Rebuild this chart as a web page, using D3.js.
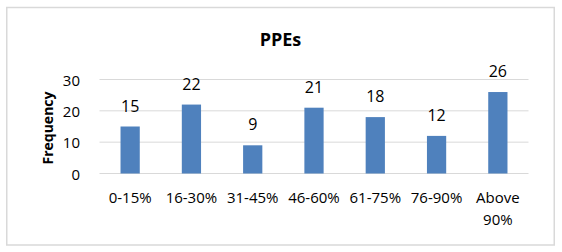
<!DOCTYPE html>
<html>
<head>
<meta charset="utf-8">
<script src="https://cdn.jsdelivr.net/npm/d3@7"></script>
<style>
  body { margin: 0; background: #fff; }
  svg text { font-family: "Open Sans", "Liberation Sans", sans-serif; fill: #000; }
</style>
</head>
<body>
<div id="chart"></div>
<script>
// data
const categories = ["0-15%", "16-30%", "31-45%", "46-60%", "61-75%", "76-90%", "Above 90%"];
const frequency = [15, 22, 9, 21, 18, 12, 26];
const yTicks = [0, 10, 20, 30];

const W = 562, H = 252;
const plot = { left: 99.5, right: 528.5, top: 79.5, bottom: 173.5 };

const svg = d3.select("#chart").append("svg")
    .attr("width", W)
    .attr("height", H);

// outer frame
svg.append("rect")
    .attr("x", 6.75).attr("y", 7.5)
    .attr("width", 547.5).attr("height", 237.5)
    .attr("fill", "#fff")
    .attr("stroke", "#d9d9d9")
    .attr("stroke-width", 1.5);

const x = d3.scaleBand()
    .domain(categories)
    .range([plot.left, plot.right])
    .paddingInner(0.686)
    .paddingOuter(0.343);

const y = d3.scaleLinear().domain([0, 30]).range([plot.bottom, plot.top]);

// gridlines
svg.append("g")
    .selectAll("line")
    .data(yTicks)
    .enter()
    .append("line")
    .attr("x1", plot.left).attr("x2", plot.right)
    .attr("y1", d => y(d))
    .attr("y2", d => y(d))
    .attr("stroke", "#d9d9d9");

// y axis labels
const yAxis = svg.append("g")
    .attr("transform", `translate(80, 1)`)
    .call(d3.axisLeft(y).tickValues(yTicks).tickSize(0).tickPadding(0))
    .style("font-size", "15px");
yAxis.select(".domain").remove();
yAxis.selectAll("text").attr("font-family", null);

// bars
svg.append("g")
    .selectAll("rect")
    .data(frequency)
    .enter()
    .append("rect")
    .attr("x", (d, i) => x(categories[i]))
    .attr("y", d => y(d))
    .attr("width", x.bandwidth())
    .attr("height", d => y(0) - y(d))
    .attr("fill", "#4f81bd");

// data labels
svg.append("g")
    .selectAll("text")
    .data(frequency)
    .enter()
    .append("text")
    .attr("x", (d, i) => x(categories[i]) + x.bandwidth() / 2)
    .attr("y", d => y(d) - 15)
    .attr("text-anchor", "middle")
    .style("font-size", "16px")
    .text(d => d);

// category labels (wrap "Above 90%")
const xLabels = svg.append("g")
    .selectAll("text")
    .data(categories)
    .enter()
    .append("text")
    .attr("text-anchor", "middle")
    .style("font-size", "15px")
    .attr("x", d => x(d) + x.bandwidth() / 2)
    .attr("y", 203);

xLabels.each(function(d) {
    const t = d3.select(this);
    const cx = x(d) + x.bandwidth() / 2;
    if (d === "Above 90%") {
        t.append("tspan").attr("x", cx).text("Above");
        t.append("tspan").attr("x", cx).attr("dy", 22).text("90%");
    } else {
        t.text(d);
    }
});

// y axis title
svg.append("text")
    .attr("transform", `translate(52.5, 128) rotate(-90)`)
    .attr("text-anchor", "middle")
    .style("font-size", "14px")
    .style("font-weight", "bold")
    .text("Frequency");

// chart title
svg.append("text")
    .attr("x", 280.5)
    .attr("y", 46)
    .attr("text-anchor", "middle")
    .style("font-size", "18px")
    .style("font-weight", "bold")
    .text("PPEs");
</script>
</body>
</html>
